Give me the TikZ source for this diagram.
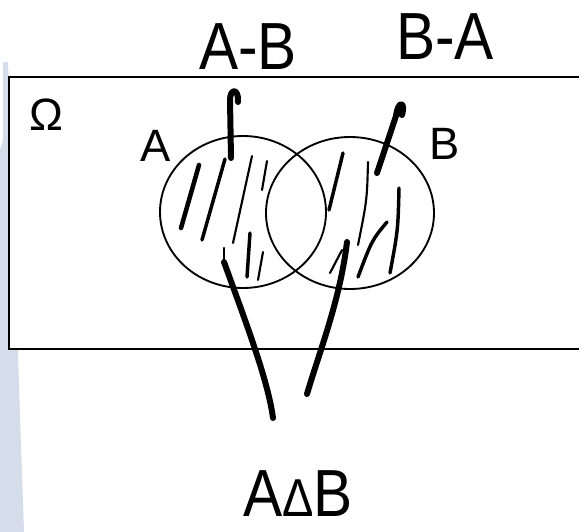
\documentclass[tikz,border=0pt]{standalone}
\usepackage{fontspec}
\setmainfont{Liberation Sans}
\usepackage{xcolor}
\usepackage{tikz}
\usetikzlibrary{positioning}
\definecolor{vnstrip}{HTML}{D6DDEA}

\begin{document}
\begin{tikzpicture}[
  x=0.75pt, y=-0.75pt,
  frame/.style={draw=black, line width=1.6pt, fill=white},
  setline/.style={draw=black, line width=1.4pt},
  lbl/.style={font=\fontsize{34}{38}\selectfont, inner sep=0pt},
  hand/.style={font=\fontsize{50}{56}\selectfont, inner sep=0pt, xscale=0.88},
  pen/.style={line width=4.5pt, line cap=round, line join=round},
  hatch/.style={line width=2.6pt, line cap=round},
  hatchthin/.style={line width=1.6pt, line cap=round},
]
\useasboundingbox (0,0) rectangle (579,532);
\clip (0,0) rectangle (579,532);

% Sidebar and universe
\fill[vnstrip] (3,62) -- (8,62) -- (24,532) -- (0,532) -- (0,150) -- (3,140) -- cycle;
\draw[frame] (9,77) rectangle (600,349);
\node[lbl] (omega) at (46,115) {Ω};

% The two sets
\coordinate (cA) at (243,212);
\coordinate (cB) at (350,213);
\draw[setline] (cA) ellipse [x radius=83, y radius=76];
\draw[setline] (cB) ellipse [x radius=84, y radius=76];
\node[lbl] (labA) at (156,146) {A};
\node[lbl] (labB) at (445,144) {B};

% Hatching in A-B
\draw[hatch, line width=3.4pt] (199,165) -- (181,228);
\draw[hatch] (225,159) -- (202,240);
\draw[hatchthin] (252,156) -- (233,243);
\draw[hatchthin] (267,161) -- (262,190);
\draw[hatch] (250,233) -- (247,277);
\draw[hatchthin] (263,252) -- (258,280);

% Hatching in B-A
\draw[hatch] (343,153) -- (329,210);
\draw[hatchthin] (368,162) .. controls (367,200) .. (358,245);
\draw[hatch] (399,188) .. controls (398,230) .. (390,273);
\draw[hatch] (387,222) .. controls (372,240) .. (358,277);
\draw[hatchthin] (330,273) -- (342,250);

% Handwritten labels
\node[hand] (AminusB) at (248,47) {A-B};
\node[hand] (BminusA) at (445,37) {B-A};
\node[hand] (symdiff) at (298,494) {A{\fontsize{40}{44}\selectfont Δ}B};

% Pointers
\coordinate (tipAB) at (231,158);
\coordinate (hookAB) at (238,102);
\coordinate (tipBA) at (377,173);
\coordinate (hookBA) at (402,115);
\coordinate (inA) at (224,262);
\coordinate (endA) at (273,418);
\coordinate (inB) at (347,242);
\coordinate (endB) at (307,394);

\draw[pen] (tipAB) -- (230,100) .. controls (230,88) and (239,88) .. (hookAB);
\draw[pen] (tipBA) -- (396,116) .. controls (398,100) and (406,101) .. (hookBA);
\draw[hatchthin] (224,248) -- (inA);
\draw[pen] (inA) .. controls (245,320) and (268,380) .. (endA);
\draw[pen] (inB) .. controls (340,300) and (320,350) .. (endB);
\end{tikzpicture}
\end{document}
